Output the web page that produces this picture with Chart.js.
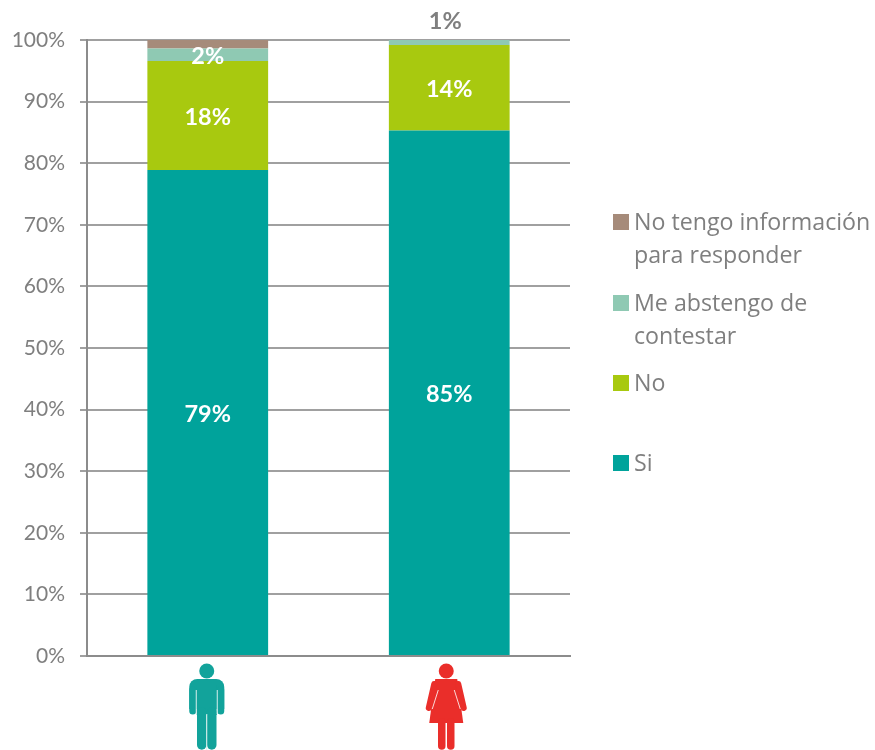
<!DOCTYPE html>
<html>
<head>
<meta charset="utf-8">
<script src="https://cdn.jsdelivr.net/npm/chart.js@4"></script>
<style>
  html, body { margin: 0; padding: 0; background: #fff; overflow: hidden; }
  #wrap { position: relative; width: 875px; height: 750px; }
  #legend { position: absolute; left: 612px; top: 205px; width: 263px; font-family: "Open Sans", sans-serif; font-size: 23.2px; line-height: 33px; color: #7f7f7f; }
  #legend div { position: absolute; left: 0; padding-left: 22px; white-space: pre-line; }
  #legend i { position: absolute; left: 1px; top: 9px; width: 16px; height: 16px; }
</style>
</head>
<body>
<div id="wrap">
  <canvas id="myChart" width="875" height="750"></canvas>
  <div id="legend"></div>
</div>
<script>
const categories = ['Hombres', 'Mujeres'];
const seriesNames = ['Si', 'No', 'Me abstengo de contestar', 'No tengo información para responder'];
const si = [78.9, 85.3];
const no = [17.7, 13.9];
const abstengo = [2.0, 0.8];
const sinInfo = [1.4, 0];
const siLabels = ['79%', '85%'];
const noLabels = ['18%', '14%'];
const abstengoLabels = ['2%', '1%'];
const colors = ['#00a39b', '#a8c90f', '#8fc9b3', '#a68b7a'];

const peopleColors = ['#12a39b', '#ea2e2a'];

// value labels, the small 1% of the second bar goes above the stack in grey
const labelsPlugin = {
    id: 'barLabels',
    afterDatasetsDraw(chart) {
        const ctx = chart.ctx;
        const sets = [siLabels, noLabels, abstengoLabels];
        ctx.save();
        ctx.font = 'bold 23.5px Lato, sans-serif';
        ctx.textAlign = 'center';
        ctx.textBaseline = 'middle';
        sets.forEach((labels, i) => {
            const meta = chart.getDatasetMeta(i);
            labels.forEach((text, j) => {
                const bar = meta.data[j];
                const y = (bar.y + bar.base) / 2 + 1.5;
                if (i === 2 && j === 1) {
                    ctx.fillStyle = '#7f7f7f';
                    ctx.fillText(text, bar.x - 4, 21);
                } else {
                    ctx.fillStyle = '#ffffff';
                    ctx.fillText(text, bar.x, y);
                }
            });
        });
        ctx.restore();
    }
};

function roundedLine(ctx, x1, y1, x2, y2, w) {
    ctx.lineWidth = w;
    ctx.lineCap = 'round';
    ctx.beginPath();
    ctx.moveTo(x1, y1);
    ctx.lineTo(x2, y2);
    ctx.stroke();
}

function drawMan(ctx, x, color) {
    ctx.fillStyle = color;
    ctx.strokeStyle = color;
    ctx.beginPath();
    ctx.arc(x, 671, 7.5, 0, Math.PI * 2);
    ctx.fill();
    ctx.beginPath();
    ctx.roundRect(x - 17.5, 679, 35, 30, [8, 8, 0, 0]);
    ctx.fill();
    roundedLine(ctx, x - 14, 690, x - 14, 711, 7);
    roundedLine(ctx, x + 14, 690, x + 14, 711, 7);
    ctx.fillRect(x - 10, 685, 20, 30);
    roundedLine(ctx, x - 5, 712, x - 5, 745, 9.5);
    roundedLine(ctx, x + 5, 712, x + 5, 745, 9.5);
    ctx.strokeStyle = '#d8efed';
    ctx.lineCap = 'butt';
    ctx.lineWidth = 1;
    ctx.beginPath();
    ctx.moveTo(x - 10.5, 690);
    ctx.lineTo(x - 10.5, 714);
    ctx.moveTo(x + 10.5, 690);
    ctx.lineTo(x + 10.5, 714);
    ctx.moveTo(x, 714);
    ctx.lineTo(x, 750);
    ctx.stroke();
}

function drawWoman(ctx, x, color) {
    ctx.fillStyle = color;
    ctx.strokeStyle = color;
    ctx.beginPath();
    ctx.arc(x, 671, 7.5, 0, Math.PI * 2);
    ctx.fill();
    ctx.beginPath();
    ctx.moveTo(x - 11, 679);
    ctx.lineTo(x + 11, 679);
    ctx.lineTo(x + 17, 723);
    ctx.lineTo(x - 17, 723);
    ctx.closePath();
    ctx.fill();
    roundedLine(ctx, x - 12, 684, x - 17.5, 708, 6);
    roundedLine(ctx, x + 12, 684, x + 17.5, 708, 6);
    roundedLine(ctx, x - 4.5, 722, x - 4.5, 746, 7.5);
    roundedLine(ctx, x + 4.5, 722, x + 4.5, 746, 7.5);
    ctx.strokeStyle = '#fbd9d8';
    ctx.lineCap = 'butt';
    ctx.lineWidth = 1;
    ctx.beginPath();
    ctx.moveTo(x - 8, 690);
    ctx.lineTo(x - 14, 709);
    ctx.moveTo(x + 8, 690);
    ctx.lineTo(x + 14, 709);
    ctx.stroke();
}

// person icons stand in for the category labels
const peoplePlugin = {
    id: 'people',
    afterDraw(chart) {
        const ctx = chart.ctx;
        const scale = chart.scales.x;
        ctx.save();
        drawMan(ctx, scale.getPixelForValue(0) - 1, peopleColors[0]);
        drawWoman(ctx, scale.getPixelForValue(1) - 3, peopleColors[1]);
        ctx.restore();
    }
};

const ctx = document.getElementById('myChart').getContext('2d');
const myChart = new Chart(ctx, {
    type: 'bar',
    data: {
        labels: categories,
        datasets: [
            { label: seriesNames[0], backgroundColor: colors[0], data: si },
            { label: seriesNames[1], backgroundColor: colors[1], data: no },
            { label: seriesNames[2], backgroundColor: colors[2], data: abstengo },
            { label: seriesNames[3], backgroundColor: colors[3], data: sinInfo }
        ]
    },
    options: {
        responsive: false,
        animation: false,
        layout: { padding: { top: 40, right: 305 } },
        datasets: { bar: { categoryPercentage: 0.5, barPercentage: 1 } },
        plugins: {
            legend: { display: false },
            tooltip: { enabled: false }
        },
        scales: {
            x: {
                stacked: true,
                afterFit: function (scale) { scale.height = 94; },
                ticks: { display: false },
                grid: { display: false },
                border: { color: '#8c8c8c', width: 2 }
            },
            y: {
                stacked: true,
                min: 0,
                max: 100,
                afterFit: function (scale) { scale.width = 87; },
                ticks: {
                    stepSize: 10,
                    padding: 15,
                    color: '#7f7f7f',
                    font: { family: 'Lato, sans-serif', size: 21 },
                    callback: function (value) { return value + '%'; }
                },
                grid: { color: '#a0a0a0', lineWidth: 2, tickLength: 7 },
                border: { display: true, color: '#8c8c8c', width: 2 }
            }
        }
    },
    plugins: [labelsPlugin, peoplePlugin]
});

// legend is html so the entries can wrap and sit like in the original
const legendLines = ['No tengo información\npara responder', 'Me abstengo de\ncontestar', 'No', 'Si'];
const legendTops = [0, 81, 161, 241];
const legendColors = [colors[3], colors[2], colors[1], colors[0]];
const legendEl = document.getElementById('legend');
legendLines.forEach((text, i) => {
    const row = document.createElement('div');
    row.style.top = legendTops[i] + 'px';
    row.textContent = text;
    const box = document.createElement('i');
    box.style.background = legendColors[i];
    row.appendChild(box);
    legendEl.appendChild(row);
});
</script>
</body>
</html>
